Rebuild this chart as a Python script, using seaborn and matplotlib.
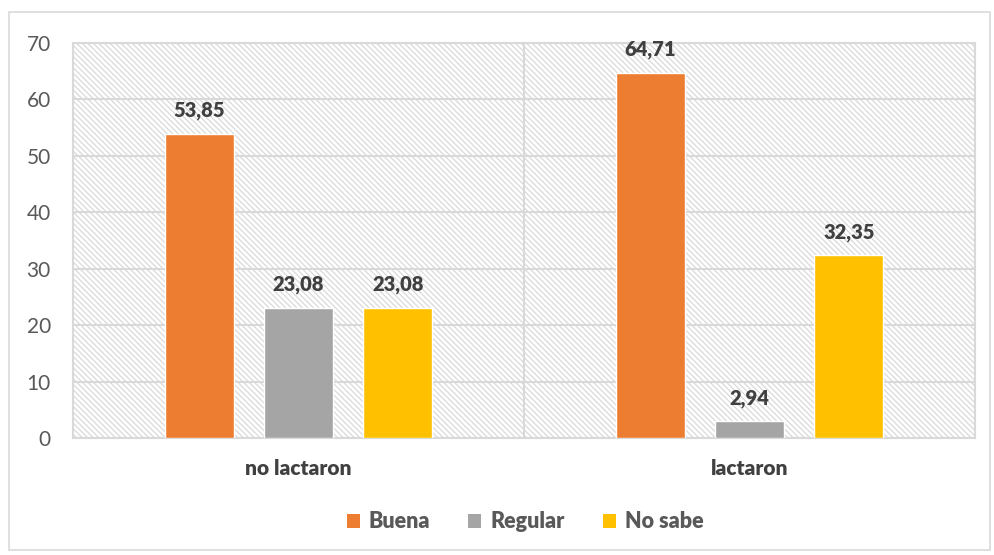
import matplotlib
matplotlib.use("Agg")
import matplotlib.pyplot as plt
import seaborn as sns
import pandas as pd
from matplotlib.patches import Rectangle, Patch

categories = ["no lactaron", "lactaron"]
series = ["Buena", "Regular", "No sabe"]
values = {
    "Buena": [53.85, 64.71],
    "Regular": [23.08, 2.94],
    "No sabe": [23.08, 32.35],
}
colors = ["#ED7D31", "#A5A5A5", "#FFC000"]
yticks = [0, 10, 20, 30, 40, 50, 60, 70]

rows = []
for s in series:
    for c, v in zip(categories, values[s]):
        rows.append({"cat": c, "serie": s, "val": v})
df = pd.DataFrame(rows)

sns.set_style("white")
plt.rcParams["font.family"] = ["Lato", "DejaVu Sans"]

fig = plt.figure(figsize=(9.94, 5.55), dpi=100)
ax = fig.add_axes([73/994, 1-438/555, (975-73)/994, (438-43)/555])

# outer border
fig.patches.append(Rectangle((9/994, 1-550/555), (990-9)/994, (550-12)/555,
                             transform=fig.transFigure, fill=False,
                             edgecolor="#d9d9d9", linewidth=1.2, zorder=0))

# hatched background
plt.rcParams["hatch.linewidth"] = 0.9
bg = Rectangle((0, 0), 1, 1, transform=ax.transAxes, facecolor="white",
               edgecolor="#d9d9d9", hatch="\\\\\\\\\\\\", linewidth=0, zorder=0)
ax.add_patch(bg)

sns.barplot(data=df, x="cat", y="val", hue="serie", order=categories,
            hue_order=series, palette=colors, width=0.66, gap=0.30,
            saturation=1, ax=ax, zorder=3, legend=False)

ax.set_ylim(0, 70)
ax.set_xlim(-0.5, 1.5)
ax.set_yticks(yticks)
ax.set_yticklabels([str(t) for t in yticks], fontsize=15, color="#595959")
ax.set_xticks(range(len(categories)))
ax.set_xticklabels(categories, fontsize=15, fontweight="heavy", color="#404040")
ax.tick_params(axis="both", length=0)
ax.tick_params(axis="x", pad=15)
ax.tick_params(axis="y", pad=16)
ax.set_xlabel("")
ax.set_ylabel("")

for t in yticks:
    ax.axhline(t, color="#d9d9d9", linewidth=1.5, zorder=1)
ax.axvline(0.5, color="#d9d9d9", linewidth=1.5, zorder=1)
for sp in ax.spines.values():
    sp.set_color("#d9d9d9")
    sp.set_linewidth(1.5)

for cont in ax.containers:
    ax.bar_label(cont, labels=[f"{b.get_height():.2f}".replace(".", ",") for b in cont],
                 padding=10, fontsize=14.5, fontweight="heavy", color="#404040")

handles = [Patch(facecolor=c, edgecolor="none") for c in colors]
fig.legend(handles, series, loc="center", bbox_to_anchor=(525/994, 1-522/555),
           ncol=3, frameon=False, handlelength=0.6, handleheight=0.6,
           columnspacing=1.8, handletextpad=0.4,
           prop={"size": 15.5, "weight": "heavy"}, labelcolor="#595959")

fig.savefig("out.png", dpi=100)
